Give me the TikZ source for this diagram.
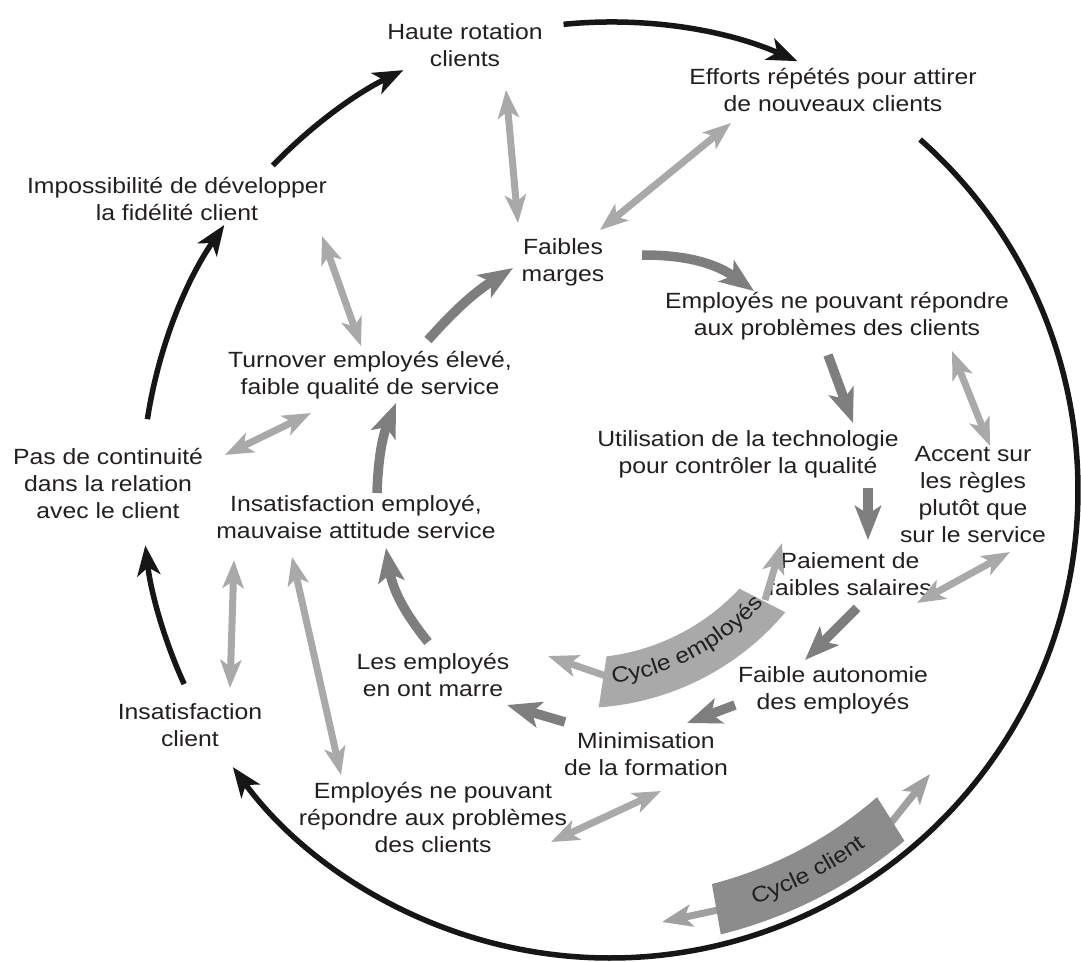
\documentclass[tikz,border=0pt]{standalone}
\usepackage{fontspec}
\setmainfont{Liberation Sans}[FakeStretch=1.125]
\usetikzlibrary{arrows.meta,decorations.text}
\definecolor{ink}{HTML}{231F20}
\definecolor{loopblack}{HTML}{161616}
\definecolor{midgray}{HTML}{7E7E7E}
\definecolor{lightgray}{HTML}{A9A9A9}
\definecolor{empband}{HTML}{A9A9A9}
\definecolor{cliband}{HTML}{8C8C8C}
\definecolor{cliarrow}{HTML}{A0A0A0}
\newcommand\lblfont{\fontsize{22}{27}\selectfont}
\begin{document}
\begin{tikzpicture}[x=1pt,y=-1pt,
  lbl/.style={align=center,font=\lblfont,text=ink,inner sep=0pt,
    execute at begin node=\strut,execute at end node=\strut},
  outer/.style={draw=loopblack,line width=5.5pt,
    -{Stealth[length=30pt,width=23pt,inset=8pt]}},
  cyc/.style={draw=midgray,line width=9.5pt,
    -{Stealth[length=34pt,width=26pt,inset=8pt]}},
  dbl/.style={draw=lightgray,line width=7pt,
    {Stealth[length=28pt,width=21pt,inset=7pt]}-{Stealth[length=28pt,width=21pt,inset=7pt]}},
  empstub/.style={draw=empband,line width=7pt,
    -{Stealth[length=30pt,width=22pt,inset=7pt]}},
  clistub/.style={draw=cliarrow,line width=7pt,
    -{Stealth[length=30pt,width=22pt,inset=7pt]}},
]
\fill[white] (0,0) rectangle (1081,961);
\useasboundingbox (0,0) rectangle (1081,961);

% ---------- labels ----------
\node[lbl] (haute)    at (465,49)  {Haute rotation\\clients};
\node[lbl] (efforts)  at (833,94)  {Efforts répétés pour attirer\\de nouveaux clients};
\node[lbl] (imposs)   at (177,203) {Impossibilité de développer\\la fidélité client};
\node[lbl] (faibles)  at (563,264) {Faibles\\marges};
\node[lbl] (emplA)    at (837,318) {Employés ne pouvant répondre\\aux problèmes des clients};
\node[lbl] (turnover) at (370,377) {Turnover employés élevé,\\faible qualité de service};
\node[lbl] (techno)   at (748,456) {Utilisation de la technologie\\pour contrôler la qualité};
\node[lbl] (accent)   at (973,498) {Accent sur\\les règles\\plutôt que\\sur le service};
\node[lbl] (contin)   at (108,487) {Pas de continuité\\dans la relation\\avec le client};
\node[lbl] (insatemp) at (356,521) {Insatisfaction employé,\\mauvaise attitude service};
\node[lbl] (salaires) at (850,578) {Paiement de\\faibles salaires};
\node[lbl] (marre)    at (433,679) {Les employés\\en ont marre};
\node[lbl] (autonom)  at (833,692) {Faible autonomie\\des employés};
\node[lbl] (insatcli) at (190,729) {Insatisfaction\\client};
\node[lbl] (formation) at (646,758) {Minimisation\\de la formation};
\node[lbl] (emplB)    at (433,821) {Employés ne pouvant\\répondre aux problèmes\\des clients};

% ---------- outer customer loop ----------
\coordinate (ctr) at (610,490);
\coordinate (hauteOut)   at ([shift={(-95.7:468)}]ctr);
\coordinate (effortsOut) at ([shift={(-48.5:468)}]ctr);
\coordinate (insatOut)   at ([shift={(155.5:468)}]ctr);
\coordinate (continOut)  at ([shift={(188.7:468)}]ctr);
\coordinate (impossOut)  at ([shift={(223.9:468)}]ctr);
\draw[outer] (hauteOut)   arc[start angle=-95.7,end angle=-66.4,radius=468];
\draw[outer] (effortsOut) arc[start angle=-48.5,end angle=143.7,radius=468];
\draw[outer] (insatOut)   arc[start angle=155.5,end angle=173.2,radius=468];
\draw[outer] (continOut)  arc[start angle=188.7,end angle=214.5,radius=468];
\draw[outer] (impossOut)  arc[start angle=223.9,end angle=243.8,radius=468];

% ---------- two-way links ----------
\coordinate (hauteS)    at (506,90);   \coordinate (faiblesN)  at (518,223);
\coordinate (effortsS)  at (731,123);  \coordinate (faiblesNE) at (600,230);
\coordinate (impossS)   at (322,236);  \coordinate (turnoverN) at (361,346);
\coordinate (emplAS)    at (952,351);  \coordinate (accentN)   at (990,446);
\coordinate (turnoverSW) at (311,413); \coordinate (continNE)  at (225,455);
\coordinate (accentS)   at (1010,552); \coordinate (salairesE) at (917,603);
\coordinate (continS)   at (234,560);  \coordinate (insatcliN) at (230,688);
\coordinate (insatempS) at (292,557);  \coordinate (emplBN)    at (341,775);
\coordinate (formationS) at (661,791); \coordinate (emplBE)    at (551,842);
\draw[dbl] (hauteS) -- (faiblesN);
\draw[dbl] (effortsS) -- (faiblesNE);
\draw[dbl] (impossS) -- (turnoverN);
\draw[dbl] (emplAS) -- (accentN);
\draw[dbl] (turnoverSW) -- (continNE);
\draw[dbl] (accentS) -- (salairesE);
\draw[dbl] (continS) -- (insatcliN);
\draw[dbl] (insatempS) -- (emplBN);
\draw[dbl] (formationS) -- (emplBE);

% ---------- employee cycle ----------
\coordinate (turnoverNE) at (428,340);  \coordinate (faiblesW)  at (513,268);
\coordinate (faiblesE)   at (642,255);  \coordinate (emplANW)   at (754,291);
\coordinate (emplASW)    at (828,355);  \coordinate (technoN)   at (853,423);
\coordinate (technoS)    at (868,488);  \coordinate (salairesN) at (868,540);
\coordinate (salairesS)  at (857,608);  \coordinate (autonomN)  at (805,660);
\coordinate (autonomW)   at (735,705);  \coordinate (formationNE) at (687,723);
\coordinate (formationNW) at (565,722); \coordinate (marreE)    at (507,705);
\coordinate (marreN)     at (428,642);  \coordinate (insatempSE) at (386,548);
\coordinate (insatempN)  at (377,493);  \coordinate (turnoverS) at (396,403);
\draw[cyc] (turnoverNE) to[bend left=8]  (faiblesW);
\draw[cyc] (faiblesE)   to[bend left=18] (emplANW);
\draw[cyc] (emplASW) -- (technoN);
\draw[cyc] (technoS) -- (salairesN);
\draw[cyc] (salairesS) -- (autonomN);
\draw[cyc] (autonomW) -- (formationNE);
\draw[cyc] (formationNW) -- (marreE);
\draw[cyc] (marreN) to[bend left=15] (insatempSE);
\draw[cyc] (insatempN) to[bend left=10] (turnoverS);

% ---------- "Cycle employés" band ----------
\coordinate (ec) at (580,440);
\coordinate (empL) at (606,676);  \coordinate (empLtip) at (548,656);
\coordinate (empR) at (765,600);  \coordinate (empRtip) at (782,543);
\draw[empstub] (empL) -- (empLtip);
\draw[empstub] (empR) -- (empRtip);
\fill[empband] ([shift={(83:218)}]ec) arc[start angle=83,end angle=43,radius=218]
  -- ([shift={(40:268)}]ec) arc[start angle=40,end angle=86,radius=268] -- cycle;
\path[decorate,decoration={text along path,text align=center,text color=ink,
    text={|\lblfont|Cycle employés}}]
  ([shift={(88:246)}]ec) arc[start angle=88,end angle=36,radius=246];

% ---------- "Cycle client" band ----------
\coordinate (cliL) at (718,910);  \coordinate (cliLtip) at (662,922);
\coordinate (cliR) at (890,824);  \coordinate (cliRtip) at (930,774);
\draw[clistub] (cliL) -- (cliLtip);
\draw[clistub] (cliR) -- (cliRtip);
\fill[cliband] ([shift={(75.5:407)}]ctr) arc[start angle=75.5,end angle=49,radius=407]
  -- ([shift={(50:458)}]ctr) arc[start angle=50,end angle=76,radius=458] -- cycle;
\path[decorate,decoration={text along path,text align=center,text color=ink,
    text={|\lblfont|Cycle client}}]
  ([shift={(82:439)}]ctr) arc[start angle=82,end angle=43,radius=439];
\end{tikzpicture}
\end{document}
